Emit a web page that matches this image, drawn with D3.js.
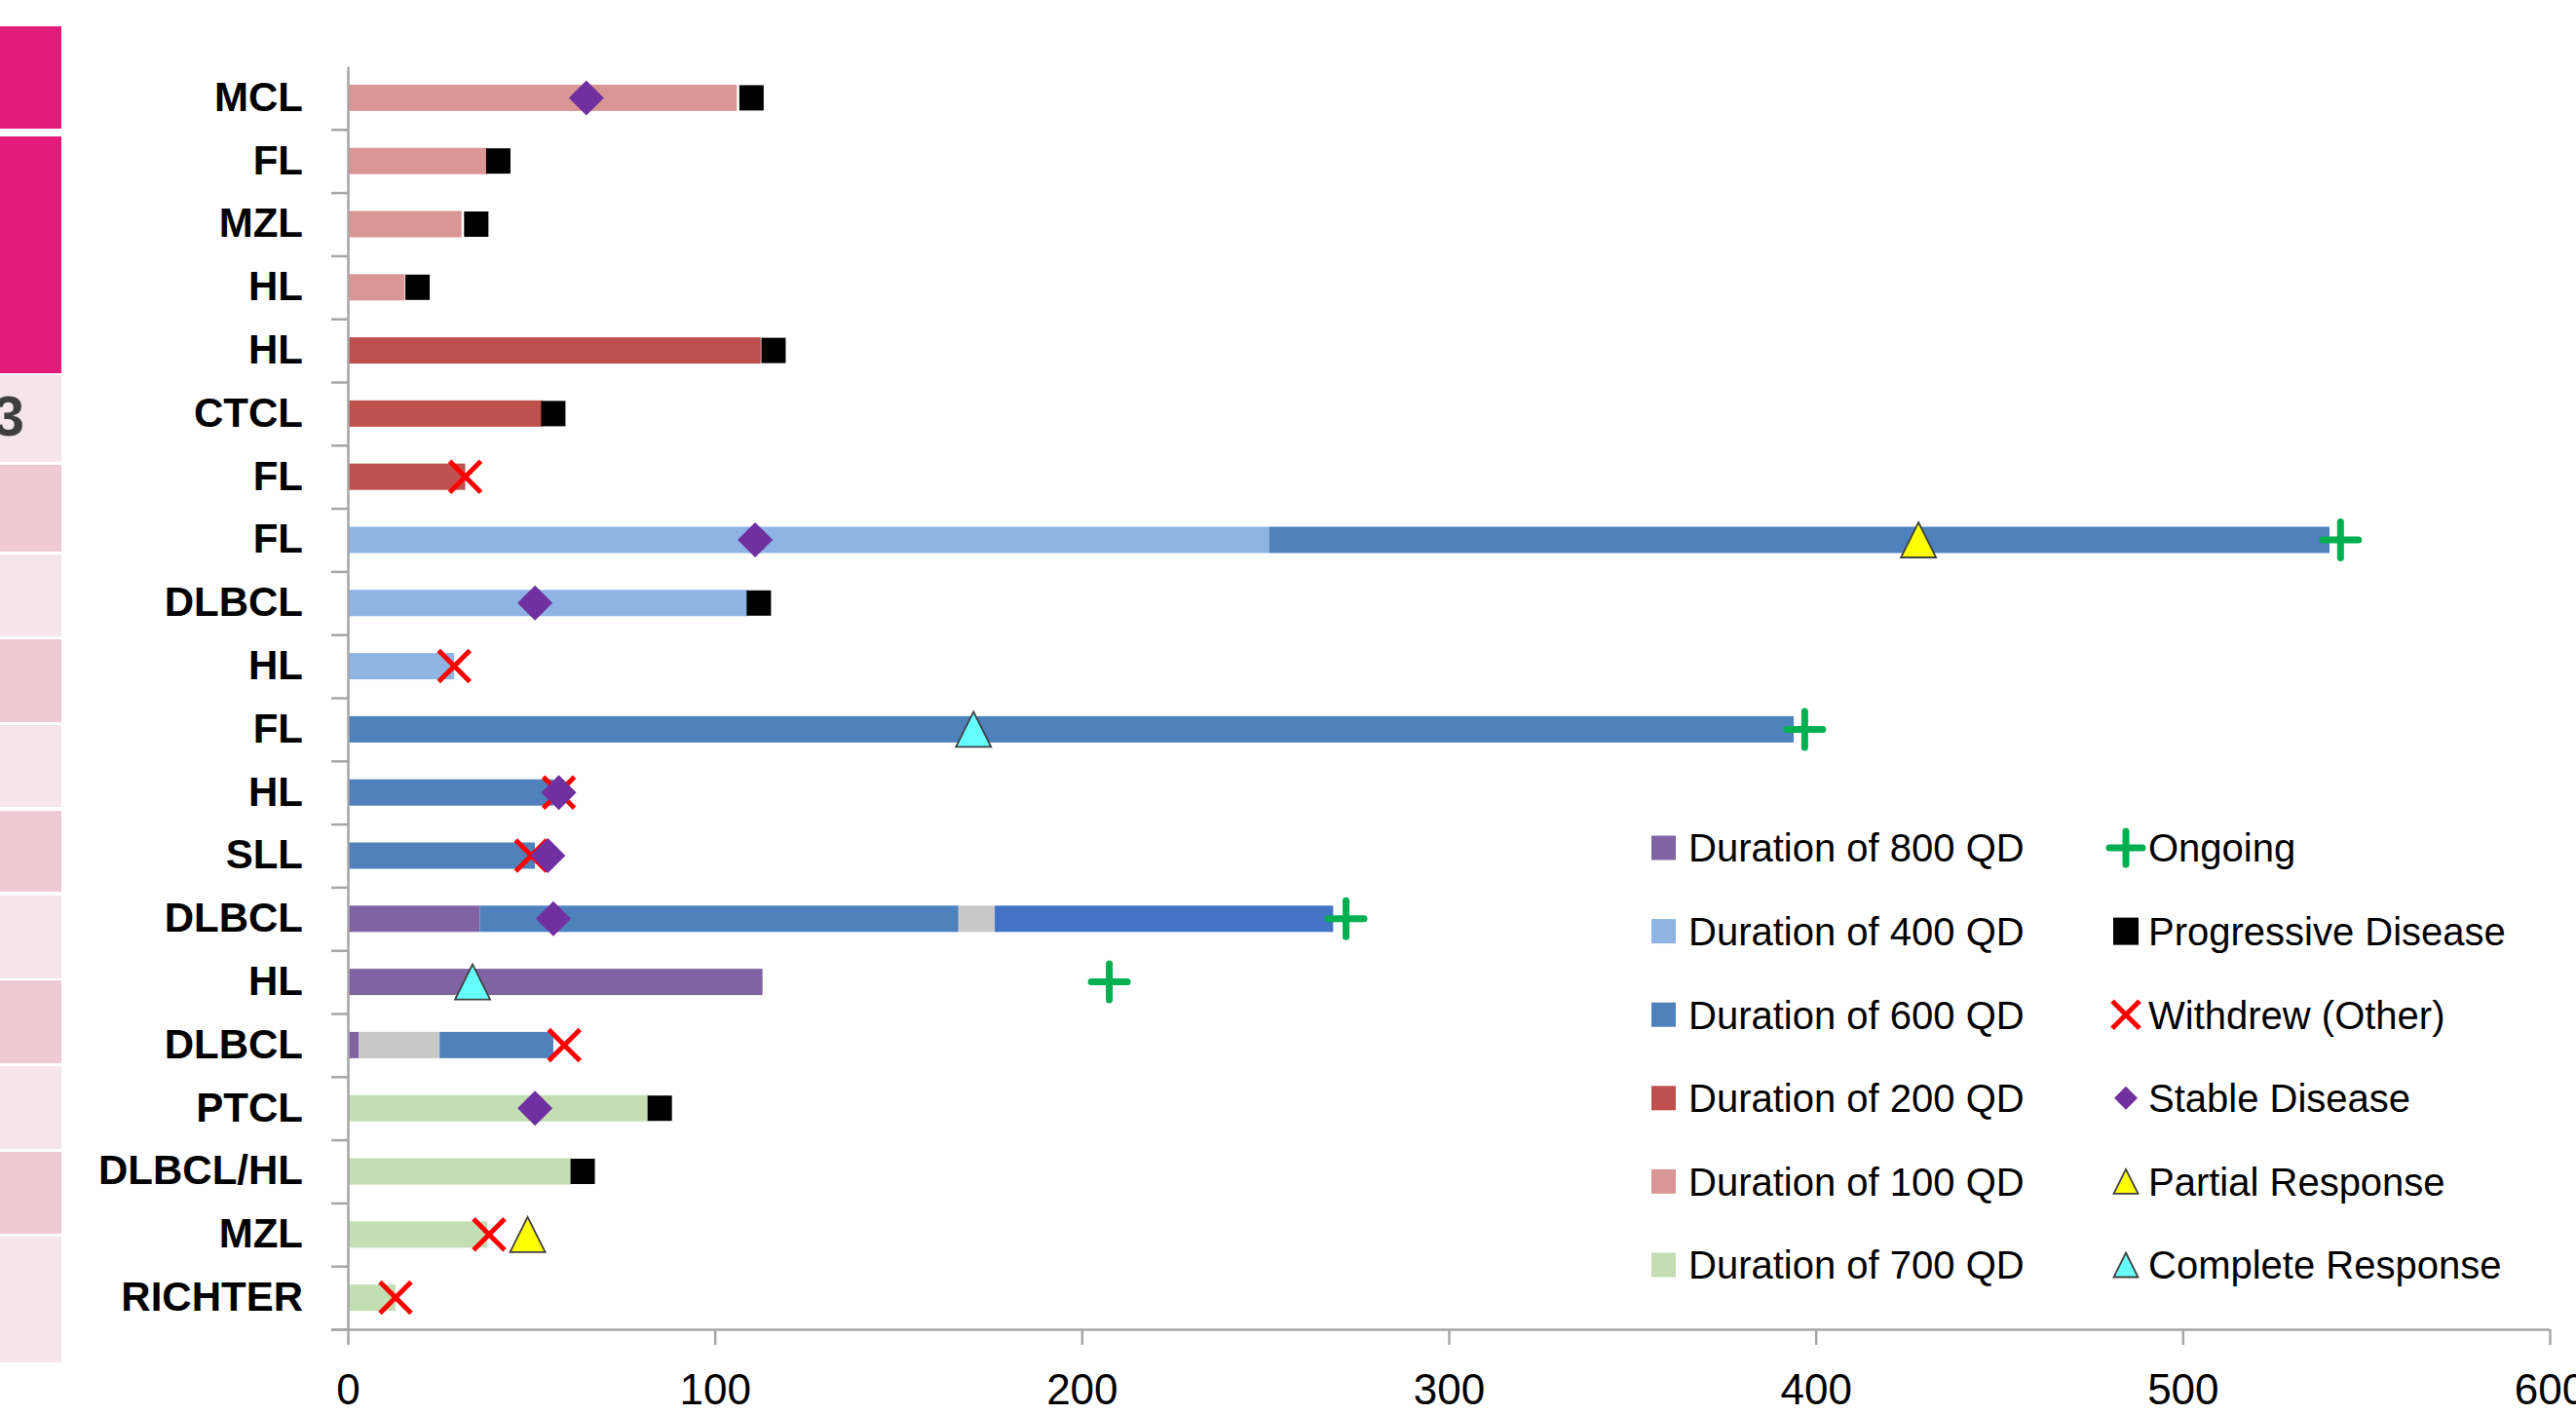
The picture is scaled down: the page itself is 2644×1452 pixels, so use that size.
<!DOCTYPE html>
<html><head><meta charset="utf-8">
<script src="https://cdn.jsdelivr.net/npm/d3@7"></script>
<style>
body{margin:0;background:#fff}
svg{display:block}
text{font-family:"Liberation Sans",Arial,sans-serif}
</style>
</head><body>
<svg id="chart" width="2644" height="1452"></svg>
<script>
// ---------------- DATA ----------------
const categories = ["MCL","FL","MZL","HL","HL","CTCL","FL","FL","DLBCL","HL","FL","HL","SLL","DLBCL","HL","DLBCL","PTCL","DLBCL/HL","MZL","RICHTER"];

// bar segments: [row index, start day, end day, series key]
const segments = [
  [0, 0, 106, "100"],
  [1, 0, 38, "100"],
  [2, 0, 31, "100"],
  [3, 0, 15.5, "100"],
  [4, 0, 112.5, "200"],
  [5, 0, 53, "200"],
  [6, 0, 32, "200"],
  [7, 0, 251, "400"], [7, 251, 540, "600"],
  [8, 0, 109, "400"],
  [9, 0, 29, "400"],
  [10, 0, 394, "600"],
  [11, 0, 56, "600"],
  [12, 0, 51, "600"],
  [13, 0, 36, "800"], [13, 36, 166.4, "600"], [13, 166.4, 176.3, "gap"], [13, 176.3, 268.5, "600b"],
  [14, 0, 113, "800"],
  [15, 0, 3, "800"], [15, 3, 25, "gap"], [15, 25, 56, "600"],
  [16, 0, 82, "700"],
  [17, 0, 61, "700"],
  [18, 0, 38, "700"],
  [19, 0, 13, "700"]
];

// event markers: [row index, day]
const ongoing = [[7, 543], [10, 397], [13, 272], [14, 207.5]];
const progressiveDisease = [[0, 110], [1, 41], [2, 35], [3, 19], [4, 116], [5, 56], [8, 112], [16, 85], [17, 64]];
const withdrew = [[6, 32], [9, 29], [11, 57.5], [12, 50], [15, 59], [18, 38.5], [19, 13]];
const stableDisease = [[0, 65], [7, 111], [8, 51], [11, 57.5], [12, 54.5], [13, 56], [16, 51]];
const partialResponse = [[7, 428], [18, 49]];
const completeResponse = [[10, 170.5], [14, 34]];

const xTicks = [0, 100, 200, 300, 400, 500, 600];
const durationLegend = ["800", "400", "600", "200", "100", "700"];
const durationLabels = ["Duration of 800 QD", "Duration of 400 QD", "Duration of 600 QD", "Duration of 200 QD", "Duration of 100 QD", "Duration of 700 QD"];
const eventLabels = ["Ongoing", "Progressive Disease", "Withdrew (Other)", "Stable Disease", "Partial Response", "Complete Response"];

// ---------------- STYLE ----------------
const colors = {"800":"#8064A2","400":"#8EB4E3","600":"#4F81BD","200":"#C0504D","100":"#D99694","700":"#C4DEB3","gap":"#C8C8C8","600b":"#4472C4"};

const svg = d3.select("#chart");
svg.append("rect").attr("width",2644).attr("height",1452).attr("fill","#fff");

// ---- left decorative table fragment ----
const deco = svg.append("g");
const decoBands = [[27,132,"#E31C79"],[140,383,"#E31C79"],[385,474,"#F6E5EA"],[477,566,"#EFC9D4"],[569,653,"#F6E5EA"],[656,741,"#EFC9D4"],[744,828,"#F6E5EA"],[832,915,"#EFC9D4"],[919,1004,"#F6E5EA"],[1006,1091,"#EFC9D4"],[1094,1179,"#F6E5EA"],[1182,1266,"#EFC9D4"],[1269,1398,"#F6E5EA"]];
deco.selectAll("rect").data(decoBands).join("rect")
  .attr("x",0).attr("width",63).attr("y",d=>d[0]).attr("height",d=>d[1]-d[0]).attr("fill",d=>d[2]);
deco.append("text").attr("x",25).attr("y",447).attr("text-anchor","end")
  .attr("font-size",58).attr("font-weight","bold").attr("fill","#3F3F42").text("3");

// ---- scales ----
const x = d3.scaleLinear().domain([0, 600]).range([357, 2617]);
const y = d3.scaleBand().domain(d3.range(categories.length)).range([68, 1364]).padding(0);
const yEdge = d3.scaleLinear().domain([0, categories.length]).range([68, 1364]);
const barH = 27;
const cy = r => y(r) + y.bandwidth()/2;

// ---- bars ----
svg.append("g").selectAll("rect").data(segments).join("rect")
  .attr("x", d => x(d[1])).attr("width", d => x(d[2]) - x(d[1]))
  .attr("y", d => cy(d[0]) - barH/2).attr("height", barH)
  .attr("fill", d => colors[d[3]]);

// ---- axes ----
const axisColor = "#A6A6A6";
const yTickAxis = svg.append("g").attr("transform","translate(357,0)")
  .call(d3.axisLeft(yEdge).tickValues(d3.range(1, categories.length + 1)).tickSize(17).tickSizeOuter(0).tickFormat(""));
yTickAxis.selectAll("path,line").attr("stroke", axisColor).attr("stroke-width", 2.5);

const yLab = svg.append("g").attr("transform","translate(357,0)")
  .call(d3.axisLeft(y).tickSize(0).tickPadding(46).tickFormat(i => categories[i]));
yLab.select(".domain").remove();
yLab.selectAll("text").attr("font-size",42).attr("font-weight","bold").attr("fill","#000")
  .attr("font-family","'Liberation Sans',Arial,sans-serif");

const xAxis = svg.append("g").attr("transform","translate(0,1364)")
  .call(d3.axisBottom(x).tickValues(xTicks).tickSize(16).tickSizeOuter(0).tickPadding(30).tickFormat(d3.format("d")));
xAxis.selectAll("path,line").attr("stroke", axisColor).attr("stroke-width", 2.5);
xAxis.select(".domain").attr("d", "M340,0.5H2617");
xAxis.selectAll("text").attr("font-size",44).attr("fill","#000")
  .attr("font-family","'Liberation Sans',Arial,sans-serif");

// ---- marker drawing helpers ----
function plusPath(px, py, h){ return `M${px-h},${py}H${px+h}M${px},${py-h}V${py+h}`; }
function xPath(px, py, h){ return `M${px-h},${py-h}L${px+h},${py+h}M${px+h},${py-h}L${px-h},${py+h}`; }
function diamondPath(px, py, h){ return `M${px},${py-h}L${px+h},${py}L${px},${py+h}L${px-h},${py}Z`; }
function triPath(px, py, w, h){ return `M${px},${py-h/2}L${px+w/2},${py+h/2}L${px-w/2},${py+h/2}Z`; }

const mk = svg.append("g");
mk.selectAll(".og").data(ongoing).join("path").attr("class","og")
  .attr("d", d => plusPath(x(d[1]), cy(d[0]), 18.5))
  .attr("stroke","#00B050").attr("stroke-width",7).attr("fill","none").attr("stroke-linecap","round");
mk.selectAll(".pd").data(progressiveDisease).join("rect").attr("class","pd")
  .attr("x", d => x(d[1]) - 12.5).attr("width", 25)
  .attr("y", d => cy(d[0]) - 13).attr("height", 26).attr("fill","#000");
mk.selectAll(".wd").data(withdrew).join("path").attr("class","wd")
  .attr("d", d => xPath(x(d[1]), cy(d[0]), 16))
  .attr("stroke","#FF0000").attr("stroke-width",5).attr("fill","none");
mk.selectAll(".sd").data(stableDisease).join("path").attr("class","sd")
  .attr("d", d => diamondPath(x(d[1]), cy(d[0]), 18)).attr("fill","#7030A0");
mk.selectAll(".pr").data(partialResponse).join("path").attr("class","pr")
  .attr("d", d => triPath(x(d[1]), cy(d[0]), 36, 36))
  .attr("fill","#FFFF00").attr("stroke","#404040").attr("stroke-width",1.8);
mk.selectAll(".cr").data(completeResponse).join("path").attr("class","cr")
  .attr("d", d => triPath(x(d[1]), cy(d[0]), 36, 36))
  .attr("fill","#66FFFF").attr("stroke","#404040").attr("stroke-width",1.8);

// ---- legend ----
const legRowY = d3.scaleLinear().domain([0, 5]).range([870, 1298]);
const lg = svg.append("g");
durationLegend.forEach((k, i) => {
  const yy = legRowY(i);
  lg.append("rect").attr("x",1695).attr("y",yy-12.5).attr("width",25).attr("height",25).attr("fill",colors[k]);
  lg.append("text").attr("x",1733).attr("y",yy).attr("dy","0.36em").attr("font-size",40).attr("fill","#000").text(durationLabels[i]);
});
const mx = 2182;
eventLabels.forEach((t, i) => {
  const yy = legRowY(i);
  lg.append("text").attr("x",2205).attr("y",yy).attr("dy","0.36em").attr("font-size",40).attr("fill","#000").text(t);
});
lg.append("path").attr("d", plusPath(mx, legRowY(0), 17)).attr("stroke","#00B050").attr("stroke-width",7).attr("fill","none").attr("stroke-linecap","round");
lg.append("rect").attr("x",mx-13).attr("y",legRowY(1)-14).attr("width",26).attr("height",28).attr("fill","#000");
lg.append("path").attr("d", xPath(mx, legRowY(2), 14)).attr("stroke","#FF0000").attr("stroke-width",5).attr("fill","none");
lg.append("path").attr("d", diamondPath(mx, legRowY(3), 12)).attr("fill","#7030A0");
lg.append("path").attr("d", triPath(mx, legRowY(4), 25, 25)).attr("fill","#FFFF00").attr("stroke","#404040").attr("stroke-width",1.8);
lg.append("path").attr("d", triPath(mx, legRowY(5), 25, 25)).attr("fill","#66FFFF").attr("stroke","#404040").attr("stroke-width",1.8);
</script>
</body></html>
